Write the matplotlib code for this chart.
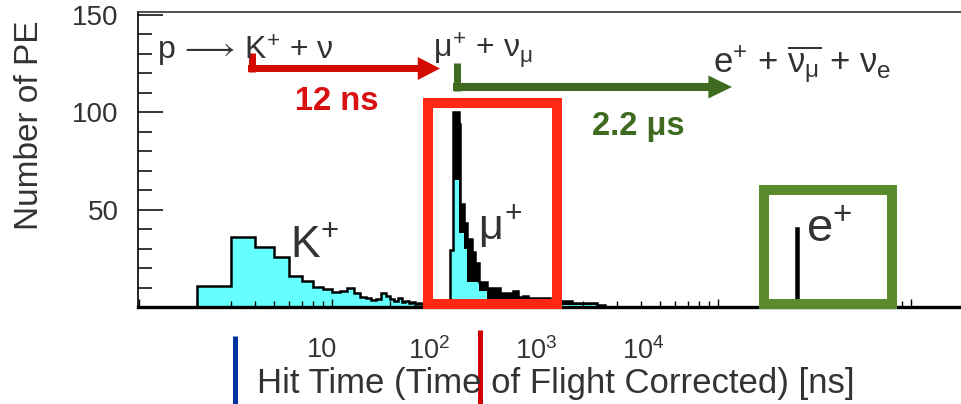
import matplotlib
matplotlib.use("Agg")
import matplotlib.pyplot as plt
from matplotlib.patches import Rectangle, FancyArrowPatch
from matplotlib.lines import Line2D
from matplotlib.ticker import MultipleLocator, FixedLocator, NullLocator

plt.rcParams['font.family'] = ['Liberation Sans', 'DejaVu Sans']
plt.rcParams['mathtext.fontset'] = 'custom'
plt.rcParams['mathtext.rm'] = 'Liberation Sans'
plt.rcParams['mathtext.it'] = 'Liberation Sans'
plt.rcParams['mathtext.bf'] = 'Liberation Sans:bold'
plt.rcParams['mathtext.fallback'] = 'stixsans'

# histogram bin edges (ns) and number of PE per bin
bin_edges = [1, 2, 3, 4, 5, 6, 7, 8, 9, 10, 11, 12, 13, 14, 15, 16, 17, 18, 19, 20,
             21, 22, 23, 24, 25, 26, 27, 28, 29, 30, 41, 42.5, 45.5, 46, 48, 50, 53,
             55, 58, 63.5, 74, 86.5, 92, 97.5, 104, 135, 150, 175, 235, 260, 2550,
             2590, 20000]
total_pe = [0, 11, 36, 31, 25.5, 16, 13.5, 10.5, 9, 7.5, 8, 9.5, 7, 5, 4.5, 3.5, 4,
            7, 5.5, 4, 3, 4.5, 2.5, 3, 2, 2.5, 1.5, 2, 1.5, 1, 29, 100, 94, 53, 43,
            35, 28, 22.5, 13, 10, 7, 8, 5, 5.5, 4.5, 2, 3, 2, 1, 0, 40.5, 0]
cyan_pe = [0, 11, 36, 31, 25.5, 16, 13.5, 10.5, 9, 7.5, 8, 9.5, 7, 5, 4.5, 3.5, 4,
           7, 5.5, 4, 3, 4.5, 2.5, 3, 2, 2.5, 1.5, 2, 1.5, 1, 29, 65, 38, 38, 30,
           13, 13, 13, 8, 4, 3, 2, 1.5, 1.5, 1, 1, 1, 1, 0.5, 0, 0, 0]

# selection windows (ns, PE)
muon_window = (31.4, 146.5, 1.3, 104.6)
electron_window = (1740, 7940, 1.5, 60)

label_ticks = [10, 100, 1000, 10000]
label_texts = ['10', '$10^{2}$', '$10^{3}$', '$10^{4}$']

W, H = 961, 404
def fxy(px, py):
    return (px / W, 1 - py / H)

fig = plt.figure(figsize=(W / 100, H / 100), dpi=100)
ax = fig.add_axes([138 / W, 1 - 307 / H, 1 - 138 / W, 295 / H])
ax.set_xscale('log')
ax.set_xlim(0.988, 18150)
ax.set_ylim(0, 151.3)

ax.stairs(total_pe, bin_edges, fill=True, color='black', lw=0, zorder=1)
ax.stairs(cyan_pe, bin_edges, fill=True, color='#66ffff', lw=0, zorder=1.2)
ax.stairs(total_pe, bin_edges, baseline=0, color='black', lw=1.8, zorder=1.5)

ax.spines['right'].set_visible(False)
ax.spines['top'].set_linewidth(1.2)
ax.spines['top'].set_color('#333333')
ax.spines['left'].set_linewidth(1.2)
ax.spines['bottom'].set_linewidth(2.4)

ax.yaxis.set_major_locator(FixedLocator([50, 100, 150]))
ax.yaxis.set_minor_locator(MultipleLocator(10))
ax.tick_params(axis='y', which='major', direction='in', length=18, width=1.1,
               labelsize=20, labelcolor='#333333', pad=14, right=False)
ax.tick_params(axis='y', which='minor', direction='in', length=10, width=1.1, right=False)
ax.tick_params(axis='x', which='major', direction='in', length=6, width=1, labelbottom=False)
ax.tick_params(axis='x', which='minor', direction='in', length=4, width=1, labelbottom=False)

# windows
for (x0, x1, y0, y1), col in [(muon_window, '#ff2812'), (electron_window, '#5a8c2d')]:
    ax.add_patch(Rectangle((x0, y0), x1 - x0, y1 - y0, fill=False, ec=col, lw=7.2,
                           zorder=5, clip_on=False, joinstyle='miter'))

# tick labels shown on a separate scale strip below
ax2 = fig.add_axes([138 / W, 1 - 337 / H, 1 - 138 / W, 0.0001])
ax2.set_xscale('log')
ax2.set_xlim(10 ** (1 + (138 - 322) / 107), 10 ** (1 + (961 - 322) / 107))
ax2.xaxis.set_major_locator(FixedLocator(label_ticks))
ax2.xaxis.set_minor_locator(NullLocator())
ax2.set_xticklabels(label_texts)
ax2.tick_params(axis='x', length=0, pad=0, labelsize=19.5, labelcolor='#333333')
ax2.set_yticks([])
for s in ax2.spines.values():
    s.set_visible(False)
ax2.patch.set_visible(False)

text_col = '#333333'
fig.text(*fxy(30, 125), 'Number of PE', rotation=90, ha='center', va='center',
         fontsize=24, color=text_col)
fig.text(*fxy(556, 384), 'Hit Time (Time of Flight Corrected) [ns]', ha='center',
         va='center', fontsize=25, color=text_col)

# decay chain
fig.text(*fxy(157, 60), r'p$\,\longrightarrow\,$K$^{+}$ + $\nu$', ha='left', va='baseline', fontsize=23,
         color=text_col)
fig.text(*fxy(433, 57), r'$\mu^{+}$ + $\nu_{\mu}$', ha='left', va='baseline', fontsize=23, color=text_col)
fig.text(*fxy(713, 73), r'e$^{+}$ + $\overline{\nu_{\mu}}$ + $\nu_{e}$', ha='left', va='baseline',
         fontsize=25, color=text_col)

red_arrow = '#d40b00'
green_arrow = '#3e6b1f'
fig.add_artist(Line2D([251.5 / W, 251.5 / W], [1 - 53 / H, 1 - 72 / H], lw=5, color=red_arrow,
                      transform=fig.transFigure, solid_capstyle='butt'))
fig.add_artist(FancyArrowPatch(fxy(248, 68.5), fxy(440, 68.5), transform=fig.transFigure,
                               arrowstyle='simple,head_length=1.6,head_width=1.65,tail_width=0.5',
                               mutation_scale=10, color=red_arrow, lw=0, shrinkA=0, shrinkB=0))
fig.add_artist(Line2D([456.5 / W, 456.5 / W], [1 - 63 / H, 1 - 91 / H], lw=5, color=green_arrow,
                      transform=fig.transFigure, solid_capstyle='butt'))
fig.add_artist(FancyArrowPatch(fxy(453, 87), fxy(732, 87), transform=fig.transFigure,
                               arrowstyle='simple,head_length=1.7,head_width=1.65,tail_width=0.58',
                               mutation_scale=10, color=green_arrow, lw=0, shrinkA=0, shrinkB=0))
fig.text(*fxy(295, 110), '12 ns', ha='left', va='baseline', fontsize=23.5, fontweight='bold',
         color='#d81010')
fig.text(*fxy(592, 135), '2.2 μs', ha='left', va='baseline', fontsize=23.5, fontweight='bold',
         color=green_arrow)

# particle labels
fig.text(*fxy(290, 257), r'K$^{+}$', ha='left', va='baseline', fontsize=32, color=text_col)
fig.text(*fxy(478, 240), r'$\mu^{+}$', ha='left', va='baseline', fontsize=31, color=text_col)
fig.text(*fxy(806, 242), r'e$^{+}$', ha='left', va='baseline', fontsize=34, color=text_col)

# marker lines under the axis
fig.add_artist(Line2D([234.5 / W, 234.5 / W], [1 - 336 / H, 0], lw=3.6, color='#0033a0',
                      transform=fig.transFigure, solid_capstyle='butt'))
fig.add_artist(Line2D([479.5 / W, 479.5 / W], [1 - 330 / H, 0], lw=3.6, color='#d00000',
                      transform=fig.transFigure, solid_capstyle='butt'))

fig.savefig('out.png', dpi=100)
